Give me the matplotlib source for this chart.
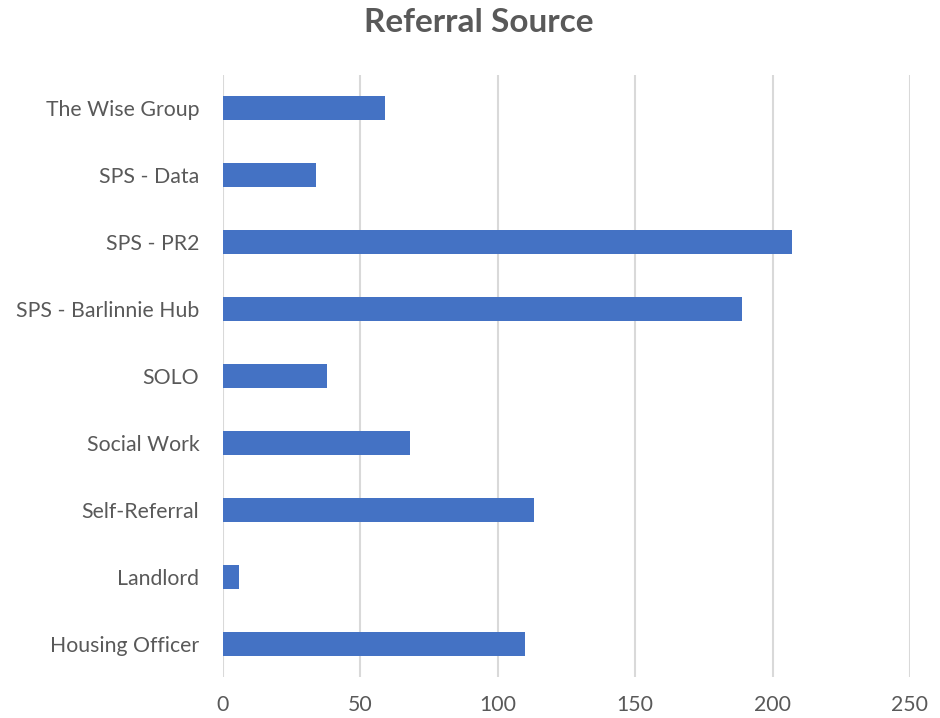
import matplotlib.pyplot as plt

sources = ['Housing Officer', 'Landlord', 'Self-Referral', 'Social Work', 'SOLO',
           'SPS - Barlinnie Hub', 'SPS - PR2', 'SPS - Data', 'The Wise Group']
counts = [110, 6, 113, 68, 38, 189, 207, 34, 59]
xticks = [0, 50, 100, 150, 200, 250]

plt.rcParams['font.family'] = ['Lato', 'DejaVu Sans']
grey = '#595959'

fig = plt.figure(figsize=(9.4, 7.18), dpi=100)
ax = fig.add_axes([223/940, 1 - 677/718, 687/940, 602/718])

ax.barh(range(len(sources)), counts, height=0.36, color='#4472C4', zorder=3)
ax.set_ylim(-0.5, len(sources) - 0.5)
ax.set_xlim(0, 250)
ax.set_xticks(xticks)
ax.set_yticks(range(len(sources)))
ax.set_yticklabels(sources)
ax.grid(axis='x', color='#d9d9d9', lw=1.5, zorder=0)
for s in ax.spines.values():
    s.set_visible(False)
ax.tick_params(length=0, labelsize=15.3, labelcolor=grey)
ax.tick_params(axis='y', pad=17)
ax.tick_params(axis='x', pad=13)

fig.text(0.509, 1 - 23/718, 'Referral Source', ha='center', va='center',
         fontsize=24, fontweight='bold', color=grey)

fig.savefig('out.png', dpi=100)
